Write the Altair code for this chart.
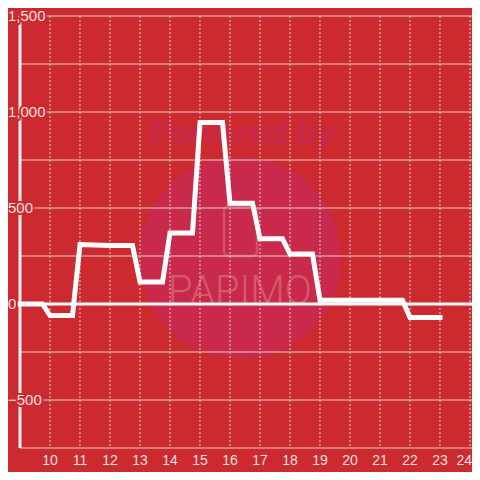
import altair as alt
import pandas as pd

# ---- data ----
hours = [9, 9.75, 10, 10.75, 11, 12, 12.75, 13, 13.75, 14, 14.75, 15, 15.75,
         16, 16.75, 17, 17.75, 18, 18.75, 19, 21.75, 22, 23]
values = [0, 0, -60, -60, 310, 305, 305, 115, 115, 370, 370, 945, 945,
          525, 525, 340, 340, 260, 260, 20, 20, -70, -70]

x_ticks = list(range(10, 25))
y_labels = [-500, 0, 500, 1000, 1500]
y_grid = [-750, -500, -250, 0, 250, 500, 750, 1000, 1250, 1500]

BG = "#CC2A2F"
GRID = "#D6D0D0"
LABEL = "#F4E0E0"
W, H = 452, 432

xs = alt.Scale(domain=[9, 24.0667], nice=False, zero=False)
ys = alt.Scale(domain=[-750, 1500], nice=False, zero=False)

line_df = pd.DataFrame({"h": hours, "v": values})
xt_df = pd.DataFrame({"h": x_ticks, "lab": [str(t) for t in x_ticks]})
xt_main = xt_df.iloc[:-1]
xt_last = xt_df.iloc[-1:]
yl_df = pd.DataFrame({"v": y_labels})
yg_df = pd.DataFrame({"v": y_grid})
one = pd.DataFrame({"a": [0]})

# watermark
wm_circle = alt.Chart(one).mark_circle(size=41000, color="#C9294A", opacity=1).encode(
    x=alt.value(220), y=alt.value(242))
wm_text = alt.Chart(one).mark_text(
    text="Powered by", font="Liberation Sans", fontSize=33, fontWeight="bold",
    fontStyle="italic", color="#C8284A", baseline="alphabetic", align="center"
).encode(x=alt.value(222), y=alt.value(128))
wm_logo = alt.Chart(one).mark_rect(
    filled=False, stroke="#D4525F", strokeWidth=2.5, cornerRadius=5
).encode(x=alt.value(204), x2=alt.value(237), y=alt.value(190), y2=alt.value(240))
wm_name = alt.Chart(one).mark_text(
    text="PAPIMO", font="Roboto", fontSize=40, fontWeight=300,
    color="#D45A68", baseline="alphabetic", align="center"
).encode(x=alt.value(220), y=alt.value(288))

# grids
hgrid = alt.Chart(yg_df).mark_rule(color=GRID, strokeWidth=1).encode(
    y=alt.Y("v:Q", scale=ys, axis=None), x=alt.value(0), x2=alt.value(W))
vgrid = alt.Chart(xt_df).mark_rule(color=GRID, strokeWidth=1, strokeDash=[2, 2]).encode(
    x=alt.X("h:Q", scale=xs, axis=None), y=alt.value(0), y2=alt.value(H))

zero_line = alt.Chart(pd.DataFrame({"v": [0]})).mark_rule(color="#FFFFFF", strokeWidth=3).encode(
    y=alt.Y("v:Q", scale=ys, axis=None), x=alt.value(0), x2=alt.value(W))
y_axis_line = alt.Chart(one).mark_rule(color="#F2F2F2", strokeWidth=3).encode(
    x=alt.value(0), y=alt.value(0), y2=alt.value(H))

data_line = alt.Chart(line_df).mark_line(
    color="#FFFFFF", strokeWidth=5, strokeCap="square", strokeJoin="miter"
).encode(
    x=alt.X("h:Q", scale=xs, axis=None),
    y=alt.Y("v:Q", scale=ys, axis=None),
)

# y labels with halo
ylab_halo = alt.Chart(yl_df).mark_text(
    align="left", baseline="middle", font="Liberation Sans", fontSize=15,
    fill=BG, stroke=BG, strokeWidth=4
).encode(y=alt.Y("v:Q", scale=ys, axis=None), x=alt.value(-12),
         text=alt.Text("v:Q", format=","))
ylab = alt.Chart(yl_df).mark_text(
    align="left", baseline="middle", font="Liberation Sans", fontSize=15, color=LABEL
).encode(y=alt.Y("v:Q", scale=ys, axis=None), x=alt.value(-12),
         text=alt.Text("v:Q", format=","))

xlab = alt.Chart(xt_main).mark_text(
    align="center", baseline="middle", font="Liberation Sans", fontSize=14, color=LABEL
).encode(x=alt.X("h:Q", scale=xs, axis=None), y=alt.value(H + 13), text="lab:N")
xlab_last = alt.Chart(xt_last).mark_text(
    align="right", baseline="middle", font="Liberation Sans", fontSize=14, color=LABEL
).encode(x=alt.value(W), y=alt.value(H + 13), text="lab:N")

chart = alt.layer(
    wm_circle, wm_text, wm_logo, wm_name,
    hgrid, vgrid, zero_line, y_axis_line, data_line,
    ylab_halo, ylab, xlab, xlab_last
).properties(
    width=W, height=H,
    autosize=alt.AutoSizeParams(type="none"),
    padding={"left": 12, "top": 8, "right": 0, "bottom": 24},
    background=BG,
).configure_view(strokeWidth=0)

chart.save("out.html", embed_options={"renderer": "svg", "actions": False})
